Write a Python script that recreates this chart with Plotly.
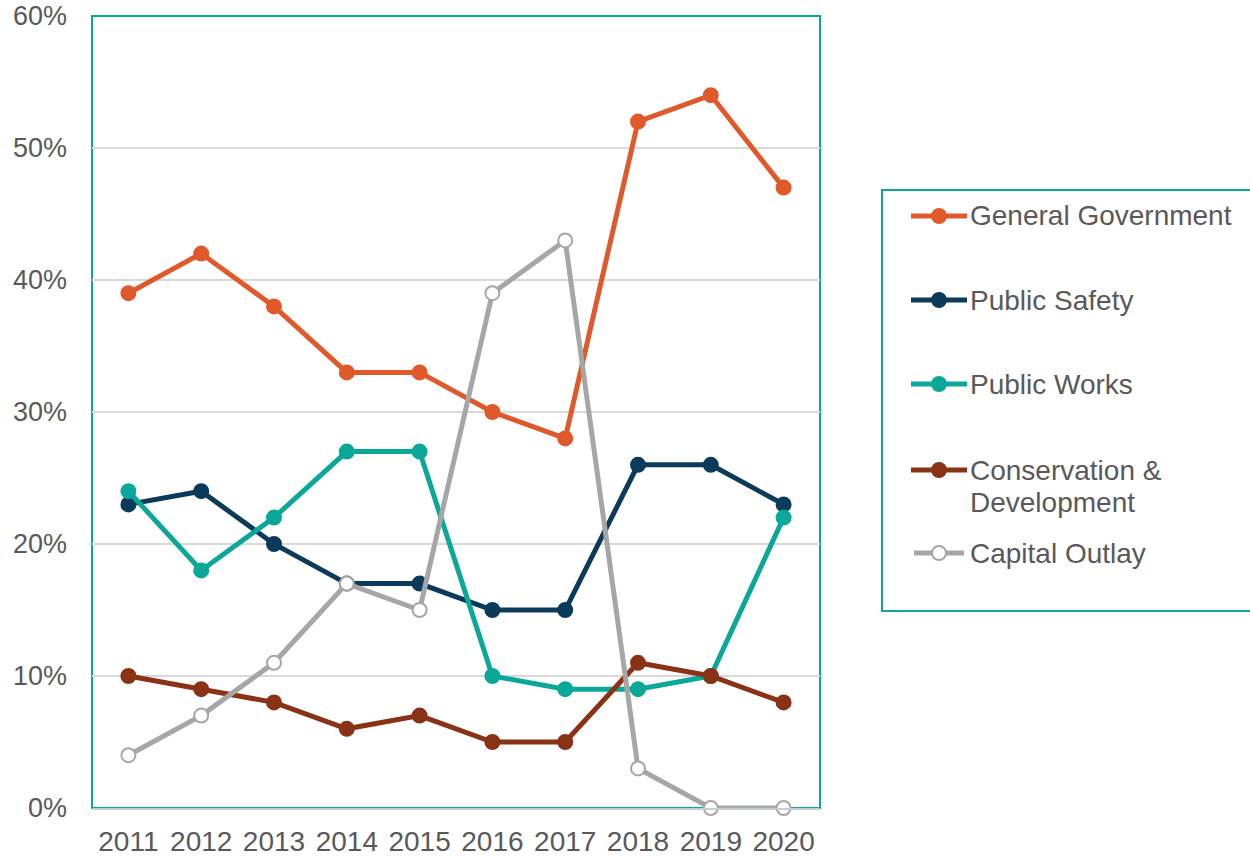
import plotly.graph_objects as go

years = ["2011", "2012", "2013", "2014", "2015", "2016", "2017", "2018", "2019", "2020"]

general_government = [39, 42, 38, 33, 33, 30, 28, 52, 54, 47]
public_safety = [23, 24, 20, 17, 17, 15, 15, 26, 26, 23]
public_works = [24, 18, 22, 27, 27, 10, 9, 9, 10, 22]
conservation_development = [10, 9, 8, 6, 7, 5, 5, 11, 10, 8]
capital_outlay = [4, 7, 11, 17, 15, 39, 43, 3, 0, 0]

series = [
    ("General Government", general_government, "#E0592A", "#E0592A"),
    ("Public Safety", public_safety, "#0B3A5B", "#0B3A5B"),
    ("Public Works", public_works, "#0BA89A", "#0BA89A"),
    ("Conservation & Development", conservation_development, "#8A3216", "#8A3216"),
    ("Capital Outlay", capital_outlay, "#A6A6A6", "#FFFFFF"),
]

FONT = "Liberation Sans, Arial, sans-serif"
TEXT = "#595959"
TEAL = "#0BA89A"

W, H = 1250, 858
ML, MR, MT, MB = 92, 430, 16, 50
PW, PH = W - ML - MR, H - MT - MB


def px(x):
    return (x - ML) / PW


def py(y):
    return (H - MB - y) / PH


fig = go.Figure()
for name, vals, color, fill in series:
    fig.add_trace(go.Scatter(
        x=years,
        y=[v / 100 for v in vals],
        name=name,
        mode="lines+markers",
        line=dict(color=color, width=5),
        marker=dict(size=14, color=fill, line=dict(color=color, width=2)),
        cliponaxis=False,
        showlegend=False,
    ))

# plot-area frame
fig.add_shape(type="rect", xref="paper", yref="paper", x0=0, y0=0, x1=1, y1=1,
              line=dict(color=TEAL, width=2), layer="below")

# legend panel
fig.add_shape(type="rect", xref="paper", yref="paper",
              x0=px(882), x1=px(1254), y0=py(611), y1=py(190),
              line=dict(color=TEAL, width=2))

legend_rows = [
    (216, ["General Government"]),
    (300, ["Public Safety"]),
    (384, ["Public Works"]),
    (470, ["Conservation &", "Development"]),
    (553, ["Capital Outlay"]),
]
for (yc, lines), (name, vals, color, fill) in zip(legend_rows, series):
    hollow = fill.upper() == "#FFFFFF"
    x0, x1 = (914, 964) if hollow else (911, 967)
    fig.add_shape(type="line", xref="paper", yref="paper",
                  x0=px(x0), x1=px(x1), y0=py(yc), y1=py(yc),
                  line=dict(color=color, width=5))
    fig.add_shape(type="circle", xref="paper", yref="paper",
                  x0=px(939 - 7), x1=px(939 + 7), y0=py(yc + 7), y1=py(yc - 7),
                  fillcolor=fill, line=dict(color=color, width=2))
    for k, txt in enumerate(lines):
        fig.add_annotation(xref="paper", yref="paper", x=px(968), y=py(yc + 32 * k),
                           xanchor="left", yanchor="middle", showarrow=False,
                           text=txt, font=dict(family=FONT, size=28, color=TEXT))

fig.update_layout(
    width=W, height=H,
    margin=dict(l=ML, r=MR, t=MT, b=MB, autoexpand=False),
    paper_bgcolor="white", plot_bgcolor="white",
    font=dict(family=FONT, size=27, color=TEXT),
    showlegend=False,
    xaxis=dict(
        type="category", range=[-0.5, 9.5], automargin=False,
        showgrid=False, zeroline=False,
        showline=True, linecolor="#C3CFD0", linewidth=2,
        ticks="", ticklabelstandoff=7,
        tickfont=dict(family=FONT, size=28, color=TEXT),
    ),
    yaxis=dict(
        range=[0, 0.6], dtick=0.1, tickformat=".0%", automargin=False,
        showgrid=True, gridcolor="#D9D9D9", gridwidth=2,
        zeroline=False, showline=False, ticks="",
        ticklabelstandoff=24,
        tickfont=dict(family=FONT, size=27, color=TEXT),
    ),
)

fig.write_html("out.html")
